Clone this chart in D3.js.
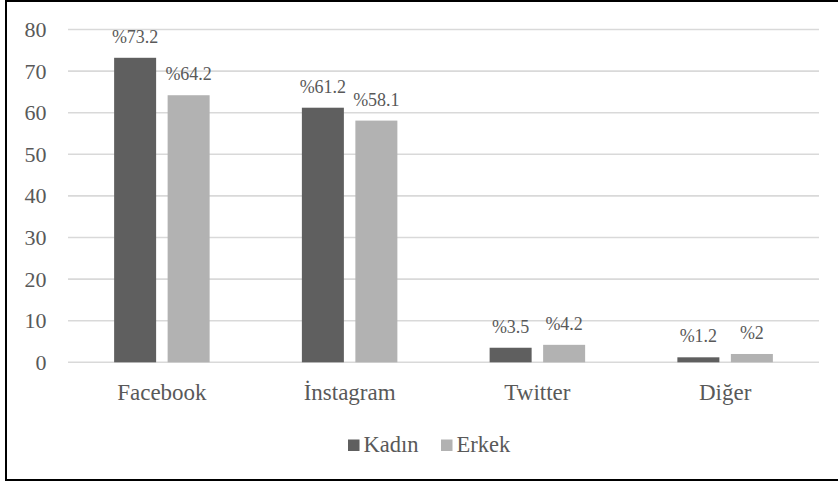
<!DOCTYPE html>
<html>
<head>
<meta charset="utf-8">
<script src="https://cdn.jsdelivr.net/npm/d3@7"></script>
<style>
  html, body { margin: 0; padding: 0; background: #fff; overflow: hidden; }
  svg { display: block; }
  svg text { font-family: "Liberation Serif", "DejaVu Serif", serif; }
</style>
</head>
<body>
<svg id="chart" width="838" height="484"></svg>
<script>
const categories = ["Facebook", "İnstagram", "Twitter", "Diğer"];
const seriesNames = ["Kadın", "Erkek"];
const kadin = [73.2, 61.2, 3.5, 1.2];
const erkek = [64.2, 58.1, 4.2, 2];
const labelsKadin = ["%73.2", "%61.2", "%3.5", "%1.2"];
const labelsErkek = ["%64.2", "%58.1", "%4.2", "%2"];
const yTicks = [0, 10, 20, 30, 40, 50, 60, 70, 80];
const colors = ["#5f5f5f", "#b2b2b2"];

const seriesValues = [kadin, erkek];
const seriesLabels = [labelsKadin, labelsErkek];

const svg = d3.select("#chart");
const font = "Liberation Serif, DejaVu Serif, serif";
const textColor = "#595959";

// Outer border (left, top, bottom only; right edge is outside the picture)
svg.append("path")
  .attr("d", "M840,1 H6 V480 H840")
  .attr("fill", "none").attr("stroke", "#000").attr("stroke-width", 2);

const plot = { left: 68, right: 819, top: 29.5, bottom: 362.3 };

const x0 = d3.scaleBand().domain(categories).range([plot.left, plot.right]).paddingInner(0).paddingOuter(0);
const x1 = d3.scaleBand().domain(seriesNames).range([-47.75, 47.75]).paddingInner(0.215).paddingOuter(0);
const y = d3.scaleLinear().domain([0, 80]).range([plot.bottom, plot.top]);

// Gridlines
svg.append("g").selectAll("line").data(yTicks).join("line")
  .attr("x1", plot.left).attr("x2", plot.right)
  .attr("y1", d => y(d)).attr("y2", d => y(d))
  .attr("stroke", "#d9d9d9").attr("stroke-width", 1.6);

// Y axis labels
const yAxis = d3.axisLeft(y).tickValues(yTicks).tickSize(0).tickPadding(0).tickFormat(d3.format("d"));
const yg = svg.append("g").attr("transform", "translate(46.5,0)").call(yAxis);
yg.attr("font-family", null).attr("font-size", null);
yg.select(".domain").remove();
yg.selectAll("text")
  .style("font-family", font).style("font-size", "22px").attr("fill", textColor);

// X axis labels
const xAxis = d3.axisBottom(x0).tickSize(0).tickPadding(0);
const xg = svg.append("g").attr("transform", `translate(0,${plot.bottom})`).call(xAxis);
xg.attr("font-family", null).attr("font-size", null);
xg.select(".domain").remove();
xg.selectAll("text")
  .attr("dy", null).attr("y", 37.5)
  .style("font-family", font).style("font-size", "23px").attr("fill", textColor);

// Bars
const groups = svg.append("g").selectAll("g").data(categories).join("g")
  .attr("transform", d => `translate(${x0(d) + x0.bandwidth() / 2},0)`);

seriesNames.forEach((s, si) => {
  groups.append("rect")
    .attr("x", x1(s))
    .attr("width", x1.bandwidth())
    .attr("y", (d, i) => y(seriesValues[si][i]))
    .attr("height", (d, i) => y(0) - y(seriesValues[si][i]))
    .attr("fill", colors[si]);
  groups.append("text")
    .attr("x", x1(s) + x1.bandwidth() / 2)
    .attr("y", (d, i) => y(seriesValues[si][i]) - 15)
    .attr("text-anchor", "middle")
    .style("font-family", font).style("font-size", "18px").attr("fill", textColor)
    .text((d, i) => seriesLabels[si][i]);
});

// Legend
const legendItems = [
  { name: seriesNames[0], color: colors[0], x: 348 },
  { name: seriesNames[1], color: colors[1], x: 441 }
];
const lg = svg.append("g");
legendItems.forEach(it => {
  lg.append("rect").attr("x", it.x).attr("y", 439.5).attr("width", 11.5).attr("height", 11.5).attr("fill", it.color);
  lg.append("text").attr("x", it.x + 15.5).attr("y", 452)
    .style("font-family", font).style("font-size", "22.5px").attr("fill", textColor)
    .text(it.name);
});
</script>
</body>
</html>
